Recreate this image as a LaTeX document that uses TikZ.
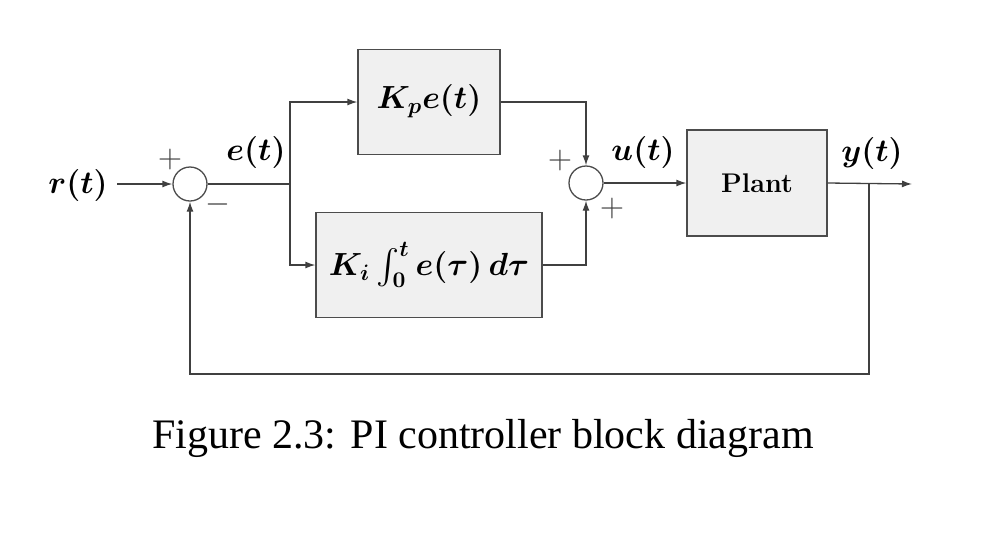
\RequirePackage{fix-cm}
\documentclass[tikz,border=0pt]{standalone}
\usepackage{exscale}
\usepackage{fontspec}
\newfontfamily\capfont{Liberation Serif}
\usetikzlibrary{arrows.meta}
\begin{document}
\begin{tikzpicture}[x=0.5pt,y=-0.5pt,
  blk/.style={draw=black!70, fill=black!6, line width=0.65pt, inner sep=0pt},
  sumc/.style={draw=black!70, circle, line width=0.65pt, minimum size=17pt, inner sep=0pt, fill=white},
  lbl/.style={font=\fontsize{16}{19}\selectfont\boldmath, inner sep=0pt},
  sgn/.style={font=\fontsize{16}{19}\selectfont, inner sep=0pt, text=black!75},
  wire/.style={draw=black!75, line width=0.65pt},
  arr/.style={wire, -{Latex[length=5pt,width=3.5pt]}}]
\useasboundingbox (0,0) rectangle (1008,548);
% blocks
\node[blk, minimum width=71pt, minimum height=52.5pt] (kp) at (429,102) {};
\node[lbl] (kpt) at (429,101) {$K_p e(t)$};
\node[blk, minimum width=113pt, minimum height=52.5pt] (ki) at (429,265) {};
\node[lbl] (kit) at (429,265) {$K_i \int_0^t e(\tau)\,d\tau$};
\node[blk, minimum width=70pt, minimum height=53pt] (plant) at (757,183) {};
\node[font=\fontsize{13.5}{16}\selectfont\bfseries, inner sep=0pt] (plantt) at (757,183) {Plant};
\node[sumc] (s1) at (190,184) {};
\node[sumc] (s2) at (586,183) {};
% labels
\node[lbl] (r) at (78,185) {$r(t)$};
\node[lbl] (e) at (256,152) {$e(t)$};
\node[lbl] (u) at (643,152) {$u(t)$};
\node[lbl] (y) at (872,153) {$y(t)$};
\node[sgn] (p1) at (170,159) {$+$};
\node[sgn] (m1) at (218,204) {$-$};
\node[sgn] (p2) at (560,160) {$+$};
\node[sgn] (p3) at (612,208) {$+$};
% coordinates
\coordinate (rs) at (117,184);
\coordinate (br) at (290,184);
\coordinate (ybr) at (869,184);
\coordinate (yend) at (912,184);
\coordinate (fb) at (869,374);
% wires
\draw[arr] (rs) -- (s1.west);
\draw[wire] (s1.east) -- (br);
\draw[arr] (br) |- (kp.west);
\draw[arr] (br) |- (ki.west);
\draw[arr] (kp.east) -| (s2.north);
\draw[arr] (ki.east) -| (s2.south);
\draw[arr] (s2.east) -- (plant.west);
\draw[arr] (plant.east) -- (yend);
\draw[arr] (ybr) -- (fb) -| (s1.south);
% caption
\node[font=\capfont\fontsize{21}{25}\selectfont, inner sep=0pt] (cap) at (483,438) {Figure 2.3: PI controller block diagram};
\end{tikzpicture}
\end{document}
